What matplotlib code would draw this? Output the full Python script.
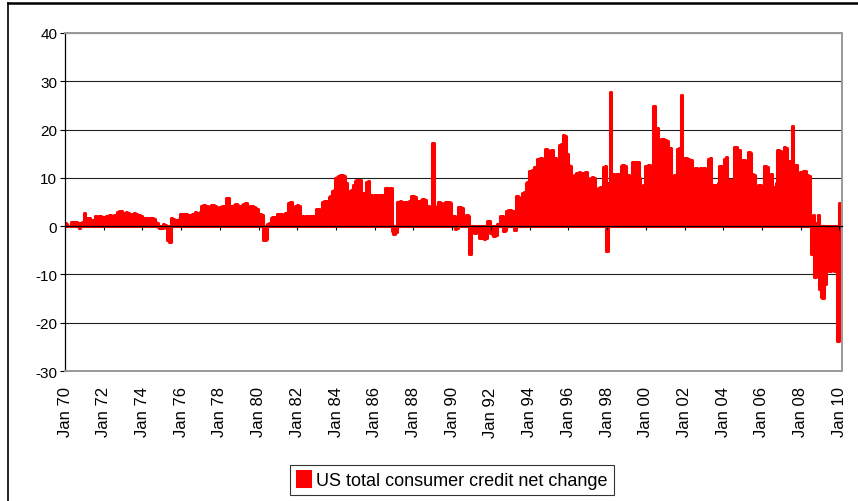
import matplotlib
matplotlib.use("Agg")
import matplotlib.pyplot as plt
from matplotlib.lines import Line2D
import numpy as np

# monthly net change in US consumer credit (Jan 1970 - Jan 2010)
credit_1970s = [
    0.6, 0.5, 0.0, 0.1, 0.8, 0.9, 0.8, 0.9, 0.7, -0.4, 0.6, 0.8,
    2.8, 1.5, 1.6, 1.7, 1.2, 1.3, 1.1, 2.0, 1.9, 2.1, 2.0, 1.8,
    1.8, 1.7, 2.0, 2.2, 2.3, 2.1, 2.2, 2.3, 2.2, 2.9, 3.2, 3.1,
    2.6, 2.8, 2.9, 2.7, 2.5, 2.4, 2.6, 2.7, 2.5, 2.4, 2.3, 2.2,
    1.6, 1.7, 1.6, 1.5, 1.6, 1.7, 1.6, 1.5, 0.8, 0.7, -0.2, -0.4,
    -0.4, 0.4, 0.3, -0.4, -2.8, -3.2, 1.6, 1.5, 1.2, 1.3, 1.2, 1.4,
    2.6, 2.5, 2.4, 2.5, 2.4, 2.3, 2.4, 2.5, 2.4, 2.9, 2.8, 2.7,
    3.0, 4.2, 4.3, 4.1, 4.2, 3.3, 3.2, 4.3, 4.4, 4.2, 3.1, 3.0,
    3.9, 4.0, 4.1, 4.0, 5.8, 5.9, 4.0, 4.1, 3.9, 4.4, 4.5, 4.3,
    4.2, 4.0, 4.3, 4.6, 4.7, 4.1, 4.0, 4.1, 4.2, 3.9, 3.8, 3.5,
]
credit_1980s = [
    2.6, 2.5, 2.4, -2.8, -2.9, -2.7, 0.5, 0.6, 1.7, 1.8, 1.9, 1.8,
    2.6, 2.5, 2.6, 2.4, 2.5, 2.7, 2.6, 4.8, 4.9, 2.4, 2.3, 4.2,
    4.3, 4.2, 1.5, 2.0, 1.9, 2.1, 2.0, 1.8, 2.1, 2.0, 2.2, 2.1,
    3.5, 3.6, 3.4, 3.5, 5.1, 5.2, 5.3, 5.2, 6.0, 6.2, 7.3, 7.5,
    10.0, 10.1, 10.3, 10.5, 10.6, 10.4, 8.9, 7.2, 7.0, 7.3, 7.5, 8.6,
    9.4, 9.6, 9.3, 9.5, 6.8, 6.9, 6.7, 9.2, 9.3, 6.4, 6.5, 6.3,
    6.4, 6.5, 6.3, 6.4, 6.5, 6.4, 6.3, 7.8, 7.9, 7.7, 7.8, -1.1,
    -1.7, -1.2, 5.0, 5.1, 5.2, 5.1, 5.0, 5.1, 4.9, 5.0, 5.2, 6.2,
    6.2, 6.1, 5.2, 5.1, 5.3, 5.4, 5.6, 5.5, 4.0, 4.1, 3.9, 4.0,
    17.2, 4.0, 3.9, 4.1, 4.9, 4.8, 3.2, 3.1, 5.0, 4.9, 5.1, 4.8,
]
credit_1990s = [
    2.2, 2.1, -0.5, -0.4, 3.9, 4.0, 3.8, 2.2, 2.1, 2.3, 2.2, -5.7,
    -1.3, -1.2, -1.4, -0.1, 0.1, -2.4, -2.5, -2.3, -2.6, -2.4, 1.0, 1.1,
    -1.5, -1.6, -2.0, -1.9, 0.4, 0.5, 2.2, 2.1, -1.0, -0.9, 3.2, 3.3,
    3.3, 3.2, 3.1, -0.8, 6.2, 6.0, 5.9, 5.8, 6.9, 7.0, 9.0, 9.1,
    11.4, 11.5, 11.6, 12.2, 12.3, 14.0, 13.9, 14.1, 12.2, 12.1, 15.9, 15.8,
    15.6, 15.5, 15.7, 14.0, 14.1, 12.2, 12.3, 16.9, 17.0, 18.8, 18.7, 15.0,
    12.6, 12.5, 10.3, 10.4, 10.5, 11.1, 11.0, 11.2, 8.7, 11.1, 11.0, 11.2,
    4.9, 5.0, 10.0, 10.1, 9.9, 6.3, 6.2, 8.0, 8.1, 7.9, 12.3, 12.4,
    -5.1, 9.0, 27.7, 10.7, 10.8, 10.6, 10.9, 10.7, 10.6, 12.5, 12.6, 12.4,
    10.4, 10.5, 10.3, 10.4, 13.2, 13.1, 13.3, 13.2, 10.0, 8.4, 8.3, 8.5,
]
credit_2000s = [
    12.5, 12.4, 12.6, 12.5, 12.3, 24.9, 20.4, 20.3, 17.7, 17.8, 18.0, 18.1,
    17.9, 17.6, 16.0, 16.1, 10.4, 10.3, 10.5, 10.4, 16.0, 16.1, 27.1, 14.1,
    14.1, 14.2, 14.0, 13.7, 13.6, 12.0, 11.9, 12.1, 7.6, 7.5, 12.0, 11.9,
    12.0, 8.7, 8.8, 14.0, 14.1, 8.5, 8.4, 8.6, 8.3, 8.9, 12.4, 12.5,
    12.2, 14.0, 14.3, 9.4, 9.5, 9.3, 9.6, 16.4, 16.3, 15.8, 15.7, 9.4,
    13.8, 13.6, 12.5, 12.4, 15.4, 15.2, 10.7, 10.5, 7.6, 7.4, 8.6, 8.5,
    7.4, 7.6, 12.5, 12.3, 10.7, 10.6, 10.8, 5.5, 8.2, 9.0, 15.8, 15.6,
    13.4, 13.2, 16.3, 16.1, 13.4, 13.3, 13.5, 20.8, 12.7, 12.6, 9.7, 9.8,
    11.3, 11.2, 11.5, 11.4, 10.6, 10.4, 2.1, -5.8, 2.4, -10.6, 0.6, 2.3,
    -13.0, -14.7, -14.8, -12.0, -9.2, -9.0, -9.3, -9.1, -8.9, -9.2, -8.8, -23.8,
]
credit_2010 = [4.8]

first_year = 1970
tick_years = list(range(1970, 2011, 2))
tick_labels = ["Jan %02d" % (y % 100) for y in tick_years]
y_ticks = [-30, -20, -10, 0, 10, 20, 30, 40]
series_name = "US total consumer credit net change"

values = np.array(credit_1970s + credit_1980s + credit_1990s + credit_2000s + credit_2010)
months = np.arange(len(values))
tick_pos = [(y - first_year) * 12 for y in tick_years]

plt.rcParams['font.family'] = ['Liberation Sans', 'DejaVu Sans']
plt.rcParams['axes.unicode_minus'] = False

fig = plt.figure(figsize=(8.58, 5.02), dpi=100)
W, H = 858, 502
ax = fig.add_axes([65 / W, 1 - 372 / H, (842 - 65) / W, (372 - 34) / H])

ax.bar(months, values, width=1.0, color='#ff0000', edgecolor='#ff0000',
       linewidth=2.2, joinstyle='round', zorder=2, label=series_name)

ymin, ymax = y_ticks[0], y_ticks[-1]
ax.set_ylim(ymin, ymax)
ax.set_xlim(0, len(values) + 0.6)
ax.set_yticks(y_ticks)
ax.yaxis.grid(True, color='#202020', linewidth=0.8, zorder=0)
ax.set_axisbelow(True)
ax.tick_params(axis='y', length=3.6, width=0.8, pad=2, labelsize=11, colors='black')

# category labels sit below the plot area
ax.set_xticks(tick_pos)
ax.set_xticklabels(tick_labels, rotation=90, fontsize=12, va='top', ha='center')
ax.tick_params(axis='x', length=0, pad=11)

for side in ['top', 'right', 'bottom']:
    ax.spines[side].set_color('#999999')
    ax.spines[side].set_linewidth(1.4)
ax.spines['left'].set_color('black')
ax.spines['left'].set_linewidth(0.9)

# horizontal axis drawn through zero with its own tick marks
zero_frac = (0 - ymin) / (ymax - ymin)
sec = ax.secondary_xaxis(zero_frac)
sec.set_xticks(tick_pos)
sec.tick_params(axis='x', direction='out', length=3.2, width=0.8, labelbottom=False, color='black')
sec.spines['bottom'].set_color('black')
sec.spines['bottom'].set_linewidth(0.9)
sec.set_zorder(5)

leg = fig.legend(loc='center', bbox_to_anchor=(452 / W, 1 - 481 / H), fontsize=13,
                 frameon=True, fancybox=False, handlelength=0.75, handleheight=0.9,
                 handletextpad=0.3, borderpad=0.35, borderaxespad=0)
leg.get_frame().set_edgecolor('black')
leg.get_frame().set_linewidth(0.8)

# chart area border (top and left visible)
fig.add_artist(Line2D([8 / W, 1], [1 - 4 / H, 1 - 4 / H], color='black', linewidth=1.8,
                      transform=fig.transFigure))
fig.add_artist(Line2D([8 / W, 8 / W], [1 - 4 / H, 0], color='black', linewidth=1.2,
                      transform=fig.transFigure))

fig.savefig('out.png', dpi=100)
